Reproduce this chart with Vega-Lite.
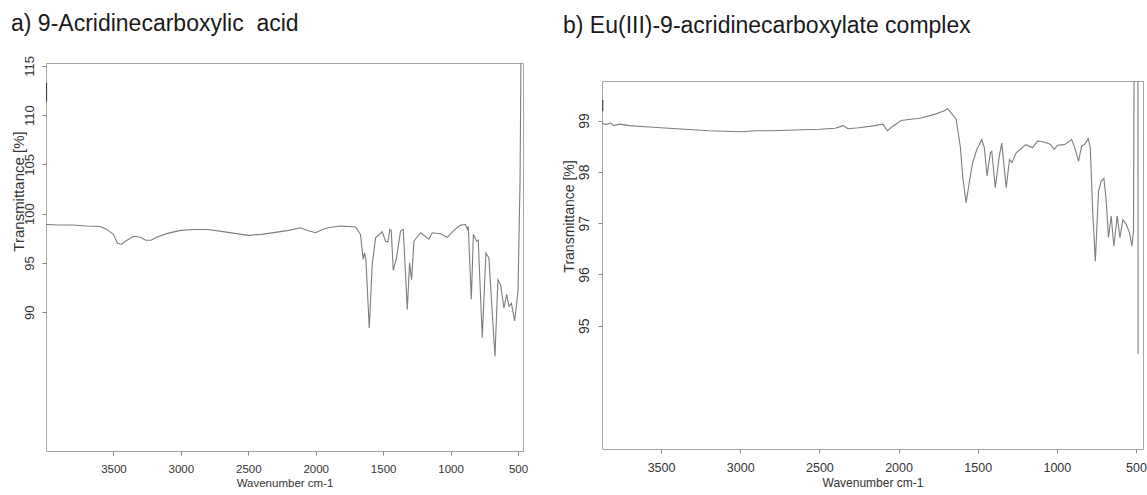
{
  "$schema": "https://vega.github.io/schema/vega-lite/v6.json",
  "background": "white",
  "padding": {"left": 10, "top": 12, "right": 4, "bottom": 4},
  "bounds": "flush",
  "spacing": 79,
  "config": {
    "font": "Liberation Sans",
    "view": {"stroke": "#a6a6a6", "strokeWidth": 1},
    "axis": {"domain": false, "grid": false, "tickColor": "#8a8a8a", "tickSize": 4, "labelColor": "#333333", "titleColor": "#333333", "titleFontWeight": "normal"}
  },
  "datasets": {
    "acid": [
      {"seg": "edge", "wn": 3996, "t": 113.3},
      {"seg": "edge", "wn": 3996, "t": 111.4},
      {"seg": "main", "wn": 4000, "t": 98.9},
      {"seg": "main", "wn": 3900, "t": 98.85},
      {"seg": "main", "wn": 3800, "t": 98.85},
      {"seg": "main", "wn": 3700, "t": 98.75},
      {"seg": "main", "wn": 3600, "t": 98.7},
      {"seg": "main", "wn": 3550, "t": 98.4},
      {"seg": "main", "wn": 3500, "t": 97.9},
      {"seg": "main", "wn": 3470, "t": 97.0},
      {"seg": "main", "wn": 3440, "t": 96.9},
      {"seg": "main", "wn": 3400, "t": 97.3},
      {"seg": "main", "wn": 3350, "t": 97.7},
      {"seg": "main", "wn": 3300, "t": 97.6},
      {"seg": "main", "wn": 3260, "t": 97.3},
      {"seg": "main", "wn": 3220, "t": 97.3},
      {"seg": "main", "wn": 3180, "t": 97.6},
      {"seg": "main", "wn": 3100, "t": 98.0},
      {"seg": "main", "wn": 3000, "t": 98.3},
      {"seg": "main", "wn": 2900, "t": 98.4},
      {"seg": "main", "wn": 2800, "t": 98.4},
      {"seg": "main", "wn": 2700, "t": 98.2},
      {"seg": "main", "wn": 2600, "t": 98.0},
      {"seg": "main", "wn": 2500, "t": 97.8},
      {"seg": "main", "wn": 2400, "t": 97.9},
      {"seg": "main", "wn": 2300, "t": 98.1},
      {"seg": "main", "wn": 2200, "t": 98.3},
      {"seg": "main", "wn": 2113, "t": 98.57},
      {"seg": "main", "wn": 2060, "t": 98.3},
      {"seg": "main", "wn": 2001, "t": 98.06},
      {"seg": "main", "wn": 1950, "t": 98.4},
      {"seg": "main", "wn": 1900, "t": 98.6},
      {"seg": "main", "wn": 1816, "t": 98.74},
      {"seg": "main", "wn": 1750, "t": 98.7},
      {"seg": "main", "wn": 1705, "t": 98.64},
      {"seg": "main", "wn": 1668, "t": 97.9},
      {"seg": "main", "wn": 1648, "t": 95.36},
      {"seg": "main", "wn": 1638, "t": 96.03},
      {"seg": "main", "wn": 1628, "t": 95.36},
      {"seg": "main", "wn": 1603, "t": 88.4},
      {"seg": "main", "wn": 1581, "t": 94.85},
      {"seg": "main", "wn": 1556, "t": 97.55},
      {"seg": "main", "wn": 1507, "t": 98.16},
      {"seg": "main", "wn": 1482, "t": 97.2},
      {"seg": "main", "wn": 1465, "t": 97.15},
      {"seg": "main", "wn": 1450, "t": 98.4},
      {"seg": "main", "wn": 1440, "t": 98.3},
      {"seg": "main", "wn": 1425, "t": 94.24},
      {"seg": "main", "wn": 1401, "t": 95.5},
      {"seg": "main", "wn": 1371, "t": 98.23},
      {"seg": "main", "wn": 1351, "t": 98.4},
      {"seg": "main", "wn": 1321, "t": 90.27},
      {"seg": "main", "wn": 1304, "t": 95.0},
      {"seg": "main", "wn": 1289, "t": 93.3},
      {"seg": "main", "wn": 1272, "t": 97.2},
      {"seg": "main", "wn": 1223, "t": 98.06},
      {"seg": "main", "wn": 1161, "t": 97.4},
      {"seg": "main", "wn": 1136, "t": 98.06},
      {"seg": "main", "wn": 1074, "t": 97.96},
      {"seg": "main", "wn": 1025, "t": 97.6},
      {"seg": "main", "wn": 975, "t": 98.3},
      {"seg": "main", "wn": 926, "t": 98.84},
      {"seg": "main", "wn": 889, "t": 98.9},
      {"seg": "main", "wn": 876, "t": 98.4},
      {"seg": "main", "wn": 869, "t": 98.74},
      {"seg": "main", "wn": 846, "t": 91.3},
      {"seg": "main", "wn": 831, "t": 97.9},
      {"seg": "main", "wn": 807, "t": 97.2},
      {"seg": "main", "wn": 795, "t": 97.3},
      {"seg": "main", "wn": 765, "t": 87.4},
      {"seg": "main", "wn": 738, "t": 96.0},
      {"seg": "main", "wn": 716, "t": 95.5},
      {"seg": "main", "wn": 671, "t": 85.5},
      {"seg": "main", "wn": 649, "t": 93.3},
      {"seg": "main", "wn": 629, "t": 92.8},
      {"seg": "main", "wn": 604, "t": 90.4},
      {"seg": "main", "wn": 584, "t": 91.8},
      {"seg": "main", "wn": 567, "t": 90.6},
      {"seg": "main", "wn": 549, "t": 90.9},
      {"seg": "main", "wn": 525, "t": 89.1},
      {"seg": "main", "wn": 500, "t": 92.1},
      {"seg": "main", "wn": 485, "t": 103.3},
      {"seg": "main", "wn": 478, "t": 116}
    ],
    "complex": [
      {"seg": "edge", "wn": 3868, "t": 99.4},
      {"seg": "edge", "wn": 3868, "t": 99.18},
      {"seg": "main", "wn": 3872, "t": 98.95},
      {"seg": "main", "wn": 3850, "t": 98.92},
      {"seg": "main", "wn": 3820, "t": 98.95},
      {"seg": "main", "wn": 3800, "t": 98.9},
      {"seg": "main", "wn": 3760, "t": 98.93},
      {"seg": "main", "wn": 3700, "t": 98.9},
      {"seg": "main", "wn": 3600, "t": 98.88},
      {"seg": "main", "wn": 3500, "t": 98.86},
      {"seg": "main", "wn": 3400, "t": 98.84},
      {"seg": "main", "wn": 3300, "t": 98.82},
      {"seg": "main", "wn": 3200, "t": 98.8},
      {"seg": "main", "wn": 3100, "t": 98.79},
      {"seg": "main", "wn": 3000, "t": 98.78},
      {"seg": "main", "wn": 2900, "t": 98.8},
      {"seg": "main", "wn": 2800, "t": 98.8},
      {"seg": "main", "wn": 2700, "t": 98.81},
      {"seg": "main", "wn": 2600, "t": 98.82},
      {"seg": "main", "wn": 2500, "t": 98.83},
      {"seg": "main", "wn": 2400, "t": 98.85},
      {"seg": "main", "wn": 2350, "t": 98.9},
      {"seg": "main", "wn": 2320, "t": 98.84},
      {"seg": "main", "wn": 2250, "t": 98.86},
      {"seg": "main", "wn": 2150, "t": 98.9},
      {"seg": "main", "wn": 2100, "t": 98.93},
      {"seg": "main", "wn": 2070, "t": 98.8},
      {"seg": "main", "wn": 2040, "t": 98.88},
      {"seg": "main", "wn": 1984, "t": 99.0},
      {"seg": "main", "wn": 1858, "t": 99.05},
      {"seg": "main", "wn": 1773, "t": 99.12},
      {"seg": "main", "wn": 1710, "t": 99.19},
      {"seg": "main", "wn": 1689, "t": 99.23},
      {"seg": "main", "wn": 1668, "t": 99.15},
      {"seg": "main", "wn": 1636, "t": 99.02},
      {"seg": "main", "wn": 1609, "t": 98.47},
      {"seg": "main", "wn": 1594, "t": 97.88},
      {"seg": "main", "wn": 1573, "t": 97.4},
      {"seg": "main", "wn": 1552, "t": 97.82},
      {"seg": "main", "wn": 1532, "t": 98.18},
      {"seg": "main", "wn": 1505, "t": 98.44},
      {"seg": "main", "wn": 1490, "t": 98.53},
      {"seg": "main", "wn": 1475, "t": 98.63},
      {"seg": "main", "wn": 1458, "t": 98.47},
      {"seg": "main", "wn": 1441, "t": 97.92},
      {"seg": "main", "wn": 1420, "t": 98.37},
      {"seg": "main", "wn": 1411, "t": 98.4},
      {"seg": "main", "wn": 1389, "t": 97.69},
      {"seg": "main", "wn": 1364, "t": 98.3},
      {"seg": "main", "wn": 1348, "t": 98.56},
      {"seg": "main", "wn": 1320, "t": 97.69},
      {"seg": "main", "wn": 1299, "t": 98.24},
      {"seg": "main", "wn": 1284, "t": 98.18},
      {"seg": "main", "wn": 1257, "t": 98.37},
      {"seg": "main", "wn": 1196, "t": 98.53},
      {"seg": "main", "wn": 1154, "t": 98.47},
      {"seg": "main", "wn": 1122, "t": 98.6},
      {"seg": "main", "wn": 1080, "t": 98.58},
      {"seg": "main", "wn": 1042, "t": 98.54},
      {"seg": "main", "wn": 1017, "t": 98.44},
      {"seg": "main", "wn": 996, "t": 98.52},
      {"seg": "main", "wn": 953, "t": 98.53},
      {"seg": "main", "wn": 907, "t": 98.63},
      {"seg": "main", "wn": 890, "t": 98.5},
      {"seg": "main", "wn": 863, "t": 98.21},
      {"seg": "main", "wn": 844, "t": 98.5},
      {"seg": "main", "wn": 823, "t": 98.54},
      {"seg": "main", "wn": 802, "t": 98.65},
      {"seg": "main", "wn": 789, "t": 98.47},
      {"seg": "main", "wn": 774, "t": 97.24},
      {"seg": "main", "wn": 757, "t": 96.26},
      {"seg": "main", "wn": 737, "t": 97.62},
      {"seg": "main", "wn": 720, "t": 97.82},
      {"seg": "main", "wn": 703, "t": 97.87},
      {"seg": "main", "wn": 689, "t": 97.46},
      {"seg": "main", "wn": 674, "t": 96.72},
      {"seg": "main", "wn": 657, "t": 97.14},
      {"seg": "main", "wn": 640, "t": 96.55},
      {"seg": "main", "wn": 619, "t": 97.14},
      {"seg": "main", "wn": 602, "t": 96.72},
      {"seg": "main", "wn": 583, "t": 97.07},
      {"seg": "main", "wn": 562, "t": 96.98},
      {"seg": "main", "wn": 541, "t": 96.81},
      {"seg": "main", "wn": 526, "t": 96.55},
      {"seg": "main", "wn": 516, "t": 96.85},
      {"seg": "main", "wn": 512, "t": 100.2},
      {"seg": "main", "wn": 488, "t": 100.2},
      {"seg": "main", "wn": 487, "t": 94.45}
    ]
  },
  "hconcat": [
    {
      "width": 477,
      "height": 388,
      "data": {"name": "acid"},
      "title": {"text": "a) 9-Acridinecarboxylic\u00a0 acid", "anchor": "start", "frame": "group", "dx": -35, "offset": 2, "baseline": "alphabetic", "fontSize": 23, "fontWeight": "normal", "color": "#1a1a1a"},
      "mark": {"type": "line", "clip": true, "strokeWidth": 1.1},
      "encoding": {
        "x": {"field": "wn", "type": "quantitative", "scale": {"domain": [463, 4000], "reverse": true, "nice": false, "zero": false},
          "axis": {"values": [3500, 3000, 2500, 2000, 1500, 1000, 500], "format": "d", "labelFontSize": 11.5, "labelPadding": 8, "title": "Wavenumber cm-1", "titleFontSize": 11.5, "titleY": 35, "titleBaseline": "alphabetic"}},
        "y": {"field": "t", "type": "quantitative", "scale": {"domain": [75.9, 115.3], "nice": false, "zero": false},
          "axis": {"values": [90, 95, 100, 105, 110, 115], "labelAngle": 270, "labelAlign": "center", "labelBaseline": "bottom", "labelPadding": 6, "labelFontSize": 13, "title": "Transmittance [%]", "titleFontSize": 15, "titleAngle": 270, "titleX": -28, "titleY": 128, "titleAlign": "center", "titleBaseline": "middle"}},
        "detail": {"field": "seg"},
        "color": {"field": "seg", "type": "nominal", "scale": {"domain": ["main", "edge"], "range": ["#7d7d7d", "#3a3a3a"]}, "legend": null},
        "order": {"value": null}
      }
    },
    {
      "bounds": "flush",
      "spacing": 17,
      "vconcat": [
        {
          "width": 541,
          "height": 1,
          "view": {"stroke": null},
          "data": {"values": [{"a": 1}]},
          "mark": {"type": "text", "text": ""}
        },
        {
          "width": 541,
          "height": 368,
          "data": {"name": "complex"},
          "title": {"text": "b) Eu(III)-9-acridinecarboxylate complex", "anchor": "start", "frame": "group", "dx": -39, "offset": 25, "baseline": "alphabetic", "fontSize": 23, "fontWeight": "normal", "color": "#1a1a1a"},
          "mark": {"type": "line", "clip": true, "strokeWidth": 1.1},
          "encoding": {
            "x": {"field": "wn", "type": "quantitative", "scale": {"domain": [456, 3873], "reverse": true, "nice": false, "zero": false},
              "axis": {"values": [3500, 3000, 2500, 2000, 1500, 1000, 500], "format": "d", "labelFontSize": 12.5, "labelPadding": 8, "title": "Wavenumber cm-1", "titleFontSize": 12, "titleY": 37, "titleBaseline": "alphabetic"}},
            "y": {"field": "t", "type": "quantitative", "scale": {"domain": [92.6, 99.77], "nice": false, "zero": false},
              "axis": {"values": [95, 96, 97, 98, 99], "labelAngle": 270, "labelAlign": "center", "labelBaseline": "bottom", "labelPadding": 7, "labelFontSize": 14, "title": "Transmittance [%]", "titleFontSize": 14, "titleAngle": 270, "titleX": -33, "titleY": 135, "titleAlign": "center", "titleBaseline": "middle"}},
            "detail": {"field": "seg"},
            "color": {"field": "seg", "type": "nominal", "scale": {"domain": ["main", "edge"], "range": ["#7d7d7d", "#3a3a3a"]}, "legend": null},
            "order": {"value": null}
          }
        }
      ]
    }
  ]
}
